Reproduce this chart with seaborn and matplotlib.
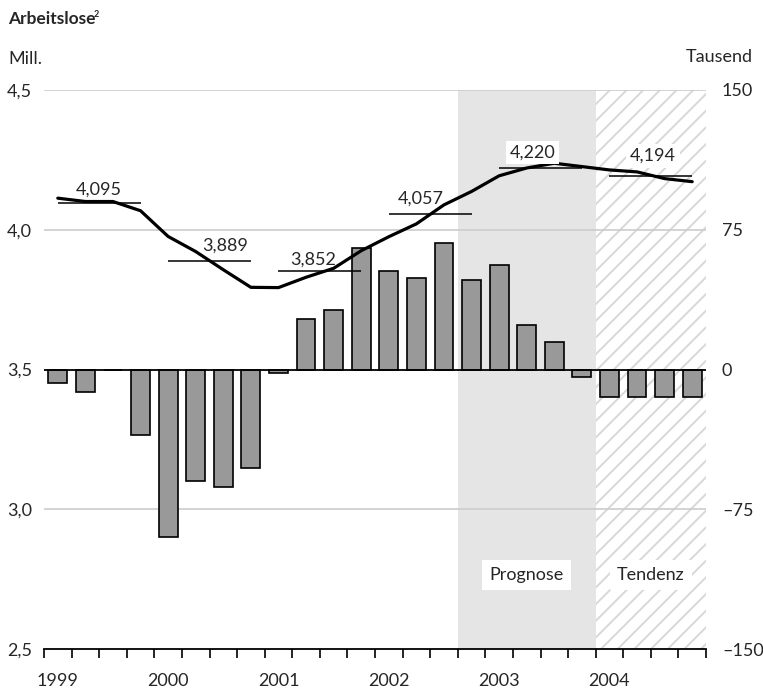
import numpy as np
import pandas as pd
import matplotlib
matplotlib.use("Agg")
import matplotlib.pyplot as plt
import seaborn as sns

# quarterly data, 1999 Q1 .. 2004 Q4
years = ["1999", "2000", "2001", "2002", "2003", "2004"]
quarters = [f"{y}Q{q}" for y in years for q in range(1, 5)]

# change vs previous quarter, thousands (right axis)
changes = [-7, -12, 0, -35,
           -90, -60, -63, -53,
           -2, 27, 32, 65,
           53, 49, 68, 48,
           56, 24, 15, -4,
           -15, -15, -15, -15]

# unemployed persons, millions (left axis)
unemployed = [4.113, 4.101, 4.101, 4.068,
              3.976, 3.922, 3.857, 3.794,
              3.793, 3.830, 3.862, 3.925,
              3.975, 4.021, 4.089, 4.137,
              4.193, 4.221, 4.238, 4.226,
              4.214, 4.207, 4.183, 4.172]

# annual averages
annual_avg = [4.095, 3.889, 3.852, 4.057, 4.220, 4.194]
annual_labels = ["4,095", "3,889", "3,852", "4,057", "4,220", "4,194"]

left_ticks = [2.5, 3.0, 3.5, 4.0, 4.5]
left_ticklabels = ["2,5", "3,0", "3,5", "4,0", "4,5"]
right_ticks = [-150, -75, 0, 75, 150]
right_ticklabels = ["\u2013150", "\u201375", "0", "75", "150"]

sns.set_theme(style="white")
plt.rcParams["font.family"] = ["Lato", "DejaVu Sans"]
plt.rcParams["hatch.linewidth"] = 1.4
FS = 13

df = pd.DataFrame({"quarter": quarters, "change": changes, "unemployed": unemployed})
df["pos"] = np.arange(len(df))

W, H = 763, 690
fig = plt.figure(figsize=(W / 100, H / 100), dpi=100)
ax = fig.add_axes([44 / W, (H - 649) / H, (706 - 44) / W, (649 - 90) / H])
ax2 = ax.twinx()

# forecast / tendency shading
ax.axvspan(14.5, 19.5, facecolor="#e5e5e5", edgecolor="none", zorder=0)
ax.axvspan(19.5, 23.5, facecolor="white", edgecolor="#d8d8d8", hatch="//",
           linewidth=0, zorder=0)

# gridlines
for v in [150, 75, -75]:
    ax.axhline(v, color="#cccccc", lw=1.2, zorder=0.5)

sns.barplot(data=df, x="quarter", y="change", order=quarters, ax=ax,
            color="#999999", edgecolor="black", linewidth=1.2, width=0.68,
            saturation=1, zorder=2)
ax.axhline(0, color="black", lw=1.3, zorder=3)

ax.set_xlim(-0.5, 23.5)
ax.set_ylim(-150, 150)
ax.set_xlabel("")
ax.set_ylabel("")
ax.yaxis.tick_right()
ax.set_yticks(right_ticks)
ax.set_yticklabels(right_ticklabels, fontsize=FS)
ax.tick_params(axis="y", length=0, pad=11.5, left=False, labelleft=False,
               right=False, labelright=True)

ax.set_xticks([4 * i for i in range(6)])
ax.set_xticklabels(years, fontsize=FS)
ax.set_xticks(np.arange(-0.5, 24, 1), minor=True)
ax.tick_params(axis="x", which="major", length=0, pad=17)
ax.tick_params(axis="x", which="minor", direction="out", length=6.5,
               width=1.2, color="black", bottom=True)

for s in ["top", "left", "right"]:
    ax.spines[s].set_visible(False)
ax.spines["bottom"].set_color("black")
ax.spines["bottom"].set_linewidth(1.3)

# unemployment line on left scale
sns.lineplot(data=df, x="pos", y="unemployed", ax=ax2, color="black",
             linewidth=2.3, zorder=5)
ax2.set_ylim(2.5, 4.5)
ax2.set_xlim(-0.5, 23.5)
ax2.yaxis.tick_left()
ax2.set_yticks(left_ticks)
ax2.set_yticklabels(left_ticklabels, fontsize=FS)
ax2.tick_params(axis="y", length=0, pad=8.5, left=False, labelleft=True,
                right=False, labelright=False)
ax2.set_xlabel("")
ax2.set_ylabel("")
for s in ax2.spines.values():
    s.set_visible(False)

# annual averages with labels
label_dx = [0, 11, -5, -6.5, -6, 1.5]
label_dy = [6, 7, 5, 7, 8, 10.5]
for k, (avg, lab) in enumerate(zip(annual_avg, annual_labels)):
    ax2.hlines(avg, 4 * k, 4 * k + 3, color="black", lw=1.1, zorder=4)
    box = None
    if k >= 4:
        box = dict(boxstyle="square,pad=0.2", facecolor="white", edgecolor="none")
    ax2.annotate(lab, xy=(4 * k + 1.5, avg), xytext=(label_dx[k], label_dy[k]),
                 textcoords="offset points", ha="center", va="baseline",
                 fontsize=FS, bbox=box, zorder=6)

ax2.text(17.0, 2.764, "Prognose", ha="center", va="center", fontsize=FS,
         bbox=dict(boxstyle="square,pad=0.4", facecolor="white", edgecolor="none"))
ax2.text(21.5, 2.764, "Tendenz", ha="center", va="center", fontsize=FS,
         bbox=dict(boxstyle="square,pad=0.4", facecolor="white", edgecolor="none"))

# title with small superscript
title = fig.text(8 / W, 1 - 24 / H, "Arbeitslose", ha="left", va="baseline",
                 fontsize=12.5, fontweight="bold")
fig.canvas.draw()
bb = title.get_window_extent()
fig.text((bb.x1 - 1.5) / W, (H - 24 + 7) / H, "2", ha="left", va="baseline",
         fontsize=6.5, fontweight="bold")

fig.text(8 / W, 1 - 59 / H, "Mill.", ha="left", va="center", fontsize=FS)
fig.text(753 / W, 1 - 57 / H, "Tausend", ha="right", va="center", fontsize=FS)

fig.savefig("out.png", dpi=100)
